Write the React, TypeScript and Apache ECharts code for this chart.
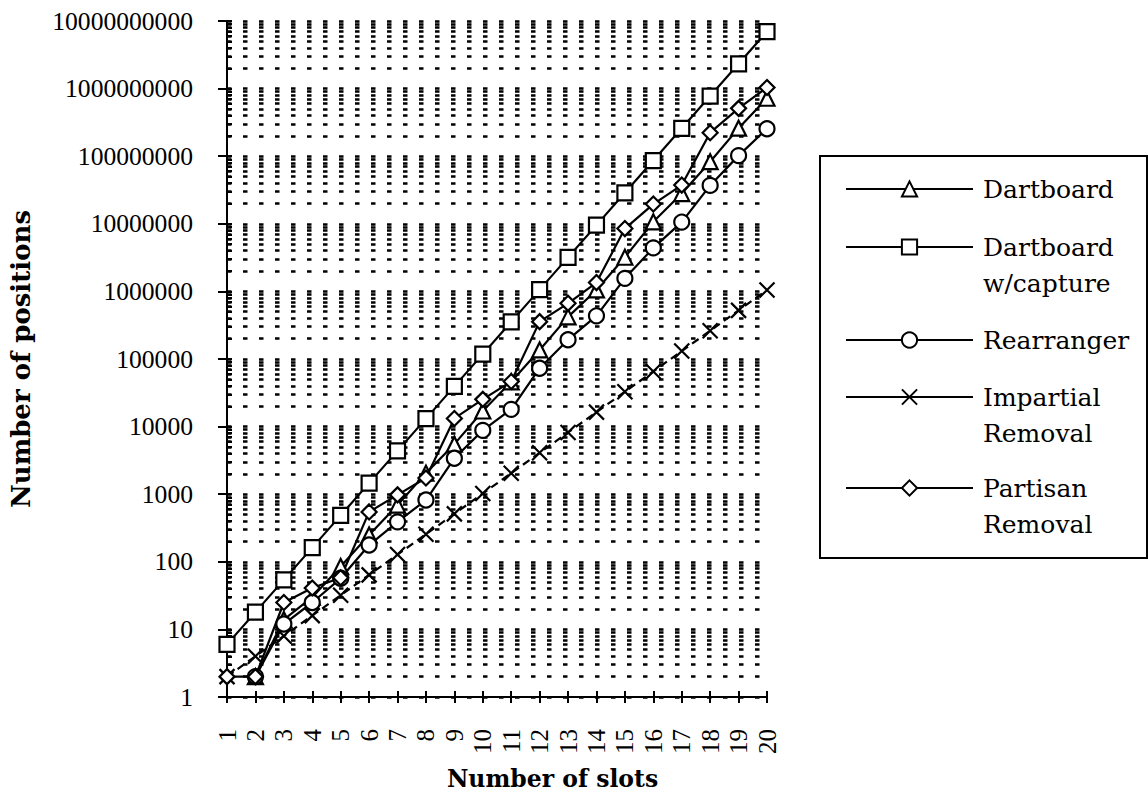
import React, { useEffect, useRef } from 'react';
import * as echarts from 'echarts';

// ---------- data ----------
const slots = ['1', '2', '3', '4', '5', '6', '7', '8', '9', '10', '11', '12', '13', '14', '15', '16', '17', '18', '19', '20'];

const dartboard = [null, 2, 14, 30, 85, 250, 690, 2050, 5500, 17000, 46000, 136000, 420000, 1050000, 3200000, 10700000, 28000000, 83000000, 260000000, 720000000];
const dartboardCapture = [6, 18, 54, 162, 486, 1458, 4374, 13122, 39366, 118098, 354294, 1062882, 3188646, 9565938, 28697814, 86093442, 258280326, 774840978, 2324522934, 6973568802];
const rearranger = [null, 2, 12, 25, 57, 177, 390, 820, 3400, 8800, 18000, 73000, 193000, 435000, 1560000, 4400000, 10600000, 37000000, 102000000, 255000000];
const impartialRemoval = [2, 4, 8, 16, 32, 64, 128, 256, 512, 1024, 2048, 4096, 8192, 16384, 32768, 65536, 131072, 262144, 524288, 1048576];
const partisanRemoval = [2, 2, 25, 41, 58, 547, 978, 1740, 13200, 25300, 46500, 357000, 666000, 1350000, 8500000, 19600000, 37400000, 223000000, 510000000, 1040000000];

const yDecades = [1, 10, 100, 1000, 10000, 100000, 1000000, 10000000, 100000000, 1000000000, 10000000000];
const yMantissas = [1, 2, 3, 4, 5, 6, 7, 8, 9];

const seriesNames = ['Dartboard', 'Dartboard w/capture', 'Rearranger', 'Impartial Removal', 'Partisan Removal'];

// ---------- style ----------
const TIMES = '"Liberation Serif", "Times New Roman", serif';
const DEJAVU = '"DejaVu Serif", serif';
const CROSS = 'path://M0,0L10,10M10,0L0,10';
const LINE_H = 36;

export default function App() {
  const ref = useRef<HTMLDivElement>(null);

  useEffect(() => {
    if (!ref.current) return;
    const chart = echarts.init(ref.current, undefined, { renderer: 'svg' });

    const allYTicks: number[] = [];
    yDecades.slice(0, -1).forEach((d) => yMantissas.forEach((m) => allYTicks.push(m * d)));
    allYTicks.push(yDecades[yDecades.length - 1]);

    const defs = [
      { name: seriesNames[0], data: dartboard, symbol: 'triangle', dashed: false },
      { name: seriesNames[1], data: dartboardCapture, symbol: 'rect', dashed: false },
      { name: seriesNames[2], data: rearranger, symbol: 'circle', dashed: false },
      { name: seriesNames[3], data: impartialRemoval, symbol: CROSS, dashed: true },
      { name: seriesNames[4], data: partisanRemoval, symbol: 'diamond', dashed: false },
    ];

    const series = defs.map((d) => ({
      type: 'line',
      name: d.name,
      data: d.data,
      xAxisIndex: 0,
      yAxisIndex: 0,
      symbol: d.symbol,
      symbolSize: 15,
      showSymbol: true,
      showAllSymbol: true,
      connectNulls: false,
      emphasis: { disabled: true },
      itemStyle: { color: '#fff', borderColor: '#000', borderWidth: 2.2 },
      lineStyle: { color: '#000', width: 2.2, type: d.dashed ? [8, 5] : 'solid' },
    }));

    const legendRows = [
      { name: seriesNames[0], top: 171, lines: 1 },
      { name: seriesNames[1], top: 193, lines: 2 },
      { name: seriesNames[2], top: 322, lines: 1 },
      { name: seriesNames[3], top: 343, lines: 2 },
      { name: seriesNames[4], top: 434, lines: 2 },
    ];

    const legends = legendRows.map((r) => ({
      show: true,
      data: [r.name],
      orient: 'vertical',
      left: 845,
      top: r.top,
      padding: 0,
      itemWidth: 127,
      itemHeight: 19,
      selectedMode: false,
      formatter: (n: string) => (r.lines === 2 ? '\n' + n.replace(' ', '\n') : n),
      lineStyle: { type: 'solid', width: 2, color: '#000' },
      textStyle: {
        fontFamily: DEJAVU,
        fontSize: 25,
        color: '#000',
        lineHeight: LINE_H,
        padding: [0, 0, 0, 5],
      },
    }));

    const option = {
      animation: false,
      backgroundColor: '#fff',
      grid: { left: 227, right: 381, top: 21, bottom: 95, containLabel: false, outerBoundsMode: 'none' },
      legend: legends,
      xAxis: [
        {
          type: 'category',
          data: slots,
          boundaryGap: false,
          position: 'bottom',
          axisLine: { onZero: false, lineStyle: { color: '#000', width: 2 } },
          axisTick: { show: true, interval: 0, length: 6, lineStyle: { color: '#000', width: 2 } },
          axisLabel: { interval: 0, rotate: 90, margin: 32, fontFamily: TIMES, fontSize: 25, color: '#000' },
          splitLine: { show: false },
          name: 'Number of slots',
          nameLocation: 'middle',
          nameGap: 70,
          nameTextStyle: { fontFamily: DEJAVU, fontWeight: 'bold', fontSize: 23.5, color: '#000', padding: [0, 0, 0, 111] },
        },
        {
          type: 'category',
          data: slots,
          boundaryGap: false,
          position: 'bottom',
          axisLine: { show: false, onZero: false },
          axisTick: { show: true, inside: true, interval: 0, length: 6, lineStyle: { color: '#000', width: 2 } },
          axisLabel: { show: false },
          splitLine: { show: false },
        },
      ],
      yAxis: [
        {
          type: 'log',
          logBase: 10,
          min: 1,
          max: 10000000000,
          position: 'left',
          axisLine: { show: true, onZero: false, lineStyle: { color: '#000', width: 2 } },
          axisTick: { show: true, inside: false, length: 9, customValues: yDecades, lineStyle: { color: '#000', width: 2 } },
          axisLabel: {
            customValues: yDecades,
            margin: 34,
            fontFamily: TIMES,
            fontSize: 25.6,
            color: '#000',
            formatter: (v: number) => String(Math.round(v)),
          },
          splitLine: { show: false },
          name: 'Number of positions',
          nameLocation: 'middle',
          nameGap: 193,
          nameRotate: 90,
          nameTextStyle: { fontFamily: DEJAVU, fontWeight: 'bold', fontSize: 26, color: '#000' },
        },
        {
          type: 'log',
          logBase: 10,
          min: 1,
          max: 10000000000,
          position: 'left',
          offset: 0,
          axisLine: { show: false, onZero: false },
          axisTick: { show: true, inside: true, length: 5, customValues: allYTicks, lineStyle: { color: '#000', width: 2 } },
          axisLabel: { show: false },
          splitLine: { show: true, lineStyle: { color: '#000', width: 2.5, type: [4.5, 11.5] } },
        },
      ],
      graphic: [
        {
          type: 'rect',
          shape: { x: 820, y: 156, width: 327, height: 402 },
          style: { fill: 'none', stroke: '#000', lineWidth: 2 },
          z: 100,
        },
      ],
      series,
    };

    chart.setOption(option as any);
    return () => chart.dispose();
  }, []);

  return (
    <div
      ref={ref}
      style={{ position: 'fixed', left: 0, top: 0, width: 1148, height: 792, background: '#fff' }}
    />
  );
}
